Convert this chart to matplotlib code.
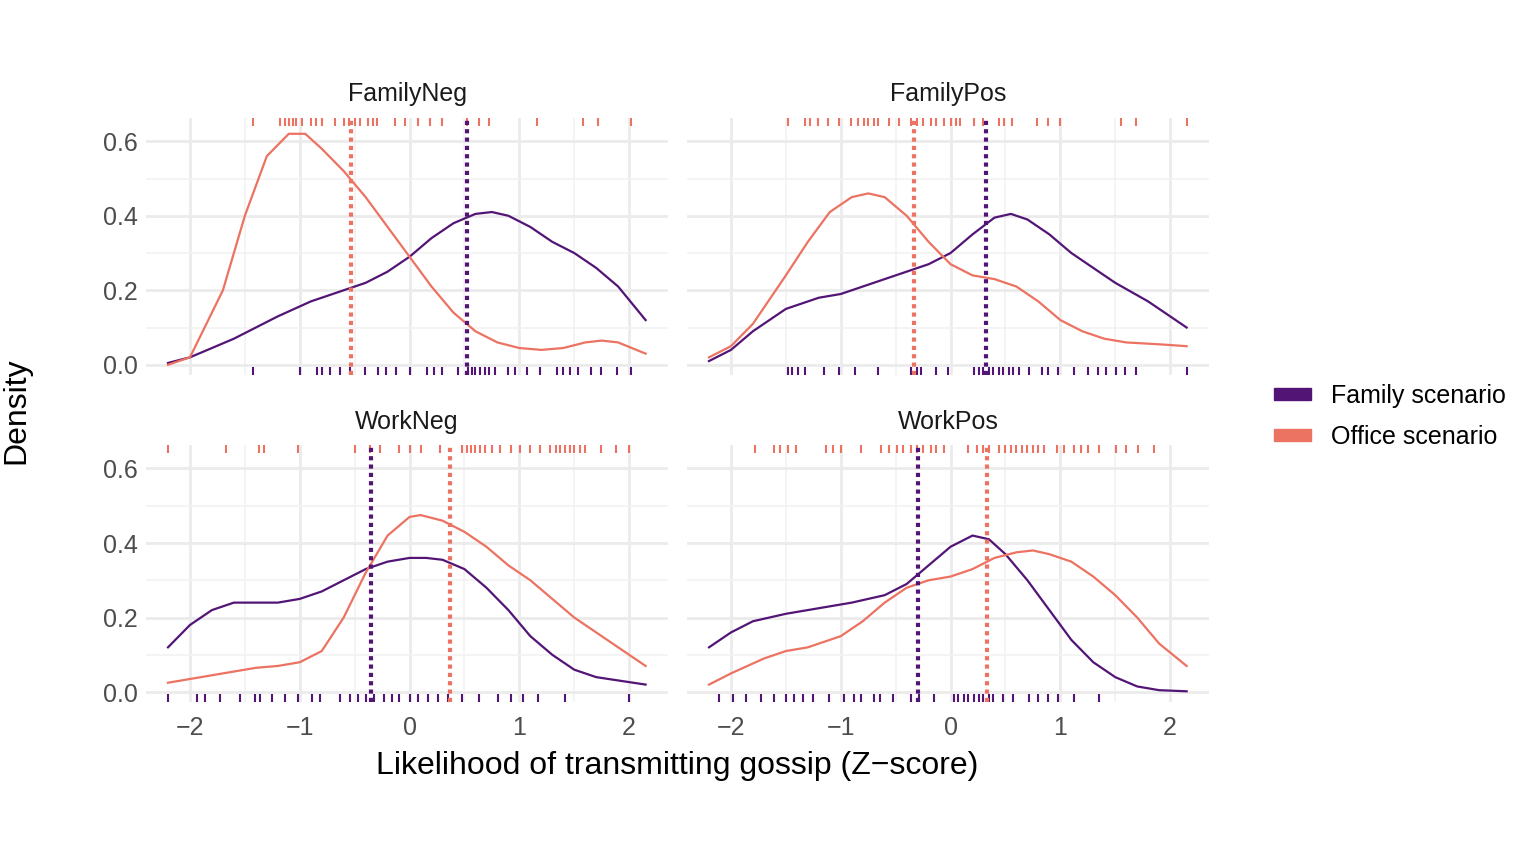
import matplotlib
matplotlib.use("Agg")
import matplotlib.pyplot as plt
from matplotlib.patches import Patch
import numpy as np

plt.rcParams['font.family'] = ['Liberation Sans', 'DejaVu Sans']

PURPLE = '#531575'
ORANGE = '#ec7261'

panels = ['FamilyNeg', 'FamilyPos', 'WorkNeg', 'WorkPos']

# density curves (x, y)
fam_x = {
 'FamilyNeg': [-2.2,-2.0,-1.6,-1.2,-0.9,-0.6,-0.4,-0.2,0,0.2,0.4,0.6,0.75,0.9,1.1,1.3,1.5,1.7,1.9,2.15],
 'FamilyPos': [-2.2,-2.0,-1.8,-1.5,-1.2,-1.0,-0.8,-0.5,-0.2,0,0.2,0.4,0.55,0.7,0.9,1.1,1.3,1.5,1.8,2.15],
 'WorkNeg': [-2.2,-2.0,-1.8,-1.6,-1.4,-1.2,-1.0,-0.8,-0.6,-0.4,-0.2,0,0.15,0.3,0.5,0.7,0.9,1.1,1.3,1.5,1.7,2.15],
 'WorkPos': [-2.2,-2.0,-1.8,-1.5,-1.2,-0.9,-0.6,-0.4,-0.2,0,0.2,0.35,0.5,0.7,0.9,1.1,1.3,1.5,1.7,1.9,2.15],
}
fam_y = {
 'FamilyNeg': [0.005,0.02,0.07,0.13,0.17,0.2,0.22,0.25,0.29,0.34,0.38,0.405,0.41,0.4,0.37,0.33,0.3,0.26,0.21,0.12],
 'FamilyPos': [0.01,0.04,0.09,0.15,0.18,0.19,0.21,0.24,0.27,0.30,0.35,0.395,0.405,0.39,0.35,0.3,0.26,0.22,0.17,0.1],
 'WorkNeg': [0.12,0.18,0.22,0.24,0.24,0.24,0.25,0.27,0.3,0.33,0.35,0.36,0.36,0.355,0.33,0.28,0.22,0.15,0.1,0.06,0.04,0.02],
 'WorkPos': [0.12,0.16,0.19,0.21,0.225,0.24,0.26,0.29,0.34,0.39,0.42,0.41,0.37,0.3,0.22,0.14,0.08,0.04,0.015,0.005,0.002],
}
off_x = {
 'FamilyNeg': [-2.2,-2.0,-1.7,-1.5,-1.3,-1.1,-0.95,-0.8,-0.6,-0.4,-0.2,0,0.2,0.4,0.6,0.8,1.0,1.2,1.4,1.6,1.75,1.9,2.15],
 'FamilyPos': [-2.2,-2.0,-1.8,-1.5,-1.3,-1.1,-0.9,-0.75,-0.6,-0.4,-0.2,0,0.2,0.4,0.6,0.8,1.0,1.2,1.4,1.6,1.9,2.15],
 'WorkNeg': [-2.2,-2.0,-1.7,-1.4,-1.2,-1.0,-0.8,-0.6,-0.4,-0.2,0,0.1,0.3,0.5,0.7,0.9,1.1,1.3,1.5,1.7,1.9,2.15],
 'WorkPos': [-2.2,-2.0,-1.7,-1.5,-1.3,-1.0,-0.8,-0.6,-0.4,-0.2,0,0.2,0.4,0.6,0.75,0.9,1.1,1.3,1.5,1.7,1.9,2.15],
}
off_y = {
 'FamilyNeg': [0.0,0.02,0.2,0.4,0.56,0.62,0.62,0.58,0.52,0.45,0.37,0.29,0.21,0.14,0.09,0.06,0.045,0.04,0.045,0.06,0.065,0.06,0.03],
 'FamilyPos': [0.02,0.05,0.11,0.24,0.33,0.41,0.45,0.46,0.45,0.40,0.33,0.27,0.24,0.23,0.21,0.17,0.12,0.09,0.07,0.06,0.055,0.05],
 'WorkNeg': [0.025,0.035,0.05,0.065,0.07,0.08,0.11,0.2,0.32,0.42,0.47,0.475,0.46,0.43,0.39,0.34,0.3,0.25,0.2,0.16,0.12,0.07],
 'WorkPos': [0.02,0.05,0.09,0.11,0.12,0.15,0.19,0.24,0.28,0.3,0.31,0.33,0.36,0.375,0.38,0.37,0.35,0.31,0.26,0.2,0.13,0.07],
}
fam_mean = {'FamilyNeg': 0.52, 'FamilyPos': 0.32, 'WorkNeg': -0.35, 'WorkPos': -0.3}
off_mean = {'FamilyNeg': -0.53, 'FamilyPos': -0.33, 'WorkNeg': 0.37, 'WorkPos': 0.33}

fam_rug = {
 'FamilyNeg': [-1.43,-1.0,-0.84,-0.8,-0.72,-0.63,-0.54,-0.41,-0.29,-0.21,-0.12,0.0,0.16,0.22,0.3,0.44,0.53,0.57,0.6,0.64,0.69,0.72,0.78,0.9,0.96,1.07,1.19,1.34,1.4,1.46,1.53,1.65,1.74,1.89,2.02],
 'FamilyPos': [-1.48,-1.44,-1.39,-1.33,-1.15,-1.02,-0.87,-0.66,-0.36,-0.31,-0.27,-0.13,-0.02,0.21,0.26,0.3,0.35,0.39,0.44,0.48,0.53,0.57,0.62,0.71,0.83,0.89,0.98,1.12,1.25,1.34,1.42,1.51,1.59,1.69,2.15],
 'WorkNeg': [-2.2,-1.94,-1.86,-1.73,-1.54,-1.41,-1.36,-1.25,-1.13,-1.02,-0.89,-0.82,-0.63,-0.54,-0.47,-0.4,-0.32,-0.23,-0.16,-0.1,0.0,0.08,0.17,0.26,0.35,0.48,0.63,0.81,0.92,1.03,1.17,1.42,2.0],
 'WorkPos': [-2.11,-1.98,-1.86,-1.73,-1.61,-1.5,-1.43,-1.34,-1.25,-1.11,-0.97,-0.88,-0.82,-0.7,-0.64,-0.52,-0.36,-0.29,-0.15,0.03,0.07,0.12,0.16,0.21,0.26,0.3,0.35,0.39,0.48,0.57,0.71,0.8,0.89,0.98,1.12,1.35],
}
off_rug = {
 'FamilyNeg': [-1.43,-1.18,-1.13,-1.1,-1.06,-1.03,-0.98,-0.9,-0.85,-0.8,-0.68,-0.6,-0.55,-0.5,-0.45,-0.38,-0.33,-0.3,-0.13,-0.04,0.08,0.19,0.3,0.52,0.63,0.72,1.16,1.58,1.72,2.02],
 'FamilyPos': [-1.48,-1.33,-1.28,-1.21,-1.12,-1.02,-0.91,-0.84,-0.79,-0.75,-0.7,-0.66,-0.56,-0.47,-0.36,-0.31,-0.25,-0.18,-0.13,-0.06,0,0.05,0.09,0.21,0.3,0.44,0.49,0.56,0.79,0.89,1.0,1.55,1.69,2.15],
 'WorkNeg': [-2.2,-1.67,-1.37,-1.33,-1.02,-0.5,-0.36,-0.27,-0.1,0,0.1,0.28,0.48,0.52,0.56,0.6,0.64,0.69,0.75,0.82,0.92,1.01,1.1,1.19,1.28,1.33,1.37,1.42,1.46,1.5,1.55,1.6,1.74,1.88,2.0],
 'WorkPos': [-1.78,-1.61,-1.55,-1.48,-1.41,-1.13,-1.07,-1.0,-0.82,-0.63,-0.56,-0.49,-0.43,-0.36,-0.31,-0.25,-0.18,-0.13,-0.06,0.16,0.24,0.3,0.35,0.44,0.5,0.55,0.6,0.65,0.7,0.75,0.8,0.85,0.97,1.03,1.12,1.19,1.25,1.35,1.51,1.6,1.71,1.85],
}

fig = plt.figure(figsize=(15.15, 8.5), dpi=100)
pos = {'FamilyNeg': [0.0964, 0.559], 'FamilyPos': [0.4535, 0.559],
       'WorkNeg': [0.0964, 0.174], 'WorkPos': [0.4535, 0.174]}
W, H = 0.3446, 0.302
for i, p in enumerate(panels):
    ax = fig.add_axes([pos[p][0], pos[p][1], W, H])
    ax.set_xlim(-2.40, 2.355)
    ax.set_ylim(-0.027, 0.662)
    ax.set_xticks([-2, -1, 0, 1, 2])
    ax.set_xticks([-1.5, -0.5, 0.5, 1.5], minor=True)
    ax.set_yticks([0.0, 0.2, 0.4, 0.6])
    ax.set_yticks([0.1, 0.3, 0.5], minor=True)
    ax.grid(True, which='major', color='#ebebeb', lw=2.0)
    ax.grid(True, which='minor', color='#f2f2f2', lw=1.2)
    ax.set_axisbelow(True)
    for s in ax.spines.values():
        s.set_visible(False)
    ax.tick_params(which='both', length=0, labelsize=18, colors='#4d4d4d')
    ax.tick_params(axis='x', pad=10)
    ax.tick_params(axis='y', pad=6)
    if i < 2:
        ax.set_xticklabels([])
    else:
        ax.set_xticklabels(['\u22122', '\u22121', '0', '1', '2'])
    if i % 2 == 1:
        ax.set_yticklabels([])
    else:
        ax.set_yticklabels(['0.0', '0.2', '0.4', '0.6'])
    trans = ax.get_xaxis_transform()
    ax.vlines(fam_rug[p], 0.0, 0.03, transform=trans, color=PURPLE, lw=1.5)
    ax.vlines(off_rug[p], 0.97, 1.0, transform=trans, color=ORANGE, lw=1.5)
    ax.plot(fam_x[p], fam_y[p], color=PURPLE, lw=1.6, solid_joinstyle='round')
    ax.plot(off_x[p], off_y[p], color=ORANGE, lw=1.6, solid_joinstyle='round')
    ax.axvline(fam_mean[p], color=PURPLE, lw=3, ls=(0, (1, 1)))
    ax.axvline(off_mean[p], color=ORANGE, lw=3, ls=(0, (1, 1)))
    ax.set_title(p, fontsize=18, color='#1a1a1a', pad=12)

fig.text(0.447, 0.099, 'Likelihood of transmitting gossip (Z\u2212score)', ha='center', va='center', fontsize=23)
fig.text(0.011, 0.517, 'Density', ha='center', va='center', fontsize=23, rotation=90)
handles = [Patch(color=PURPLE, label='Family scenario'), Patch(color=ORANGE, label='Office scenario')]
fig.legend(handles=handles, loc='center left', bbox_to_anchor=(0.826, 0.51), frameon=False,
           fontsize=18, handlelength=1.5, handleheight=0.35, labelspacing=0.7)
fig.savefig('out.png', dpi=100)
